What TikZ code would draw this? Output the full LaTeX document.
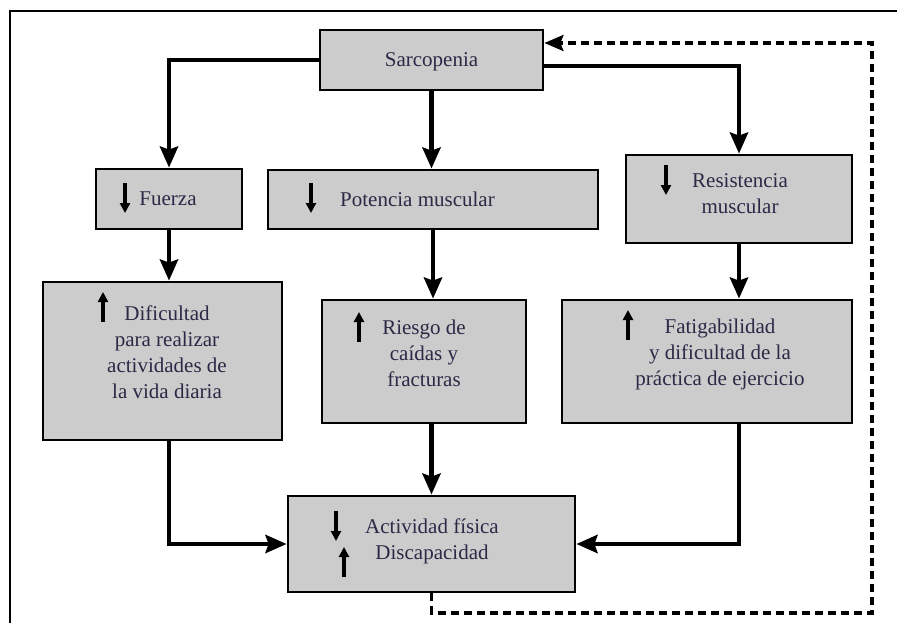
\documentclass[tikz,border=0pt]{standalone}
\usepackage{fontspec}
\setmainfont{Liberation Serif}
\usetikzlibrary{arrows.meta}
\definecolor{boxgray}{RGB}{204,204,204}
\definecolor{txt}{RGB}{45,40,70}
\begin{document}
\begin{tikzpicture}[x=1pt,y=-1pt,
  box/.style={draw=black,fill=boxgray,line width=2.8pt,inner sep=0pt},
  lbl/.style={text=txt,align=center,inner sep=0pt,font=\fontsize{21}{26}\selectfont},
  conn/.style={line width=4.5pt,-{Stealth[inset=3pt,length=21pt,width=18pt]}},
  fb/.style={line width=3.2pt,dash pattern=on 8pt off 5pt,-{Stealth[inset=3pt,length=19pt,width=16pt]}},
  icon/.style={line width=4pt,-{Triangle[length=10pt,width=10pt]}},
  icondown/.pic={\draw[icon] (0,-15) -- (0,15);},
  iconup/.pic={\draw[icon] (0,15) -- (0,-15);}
]
\useasboundingbox (0,0) rectangle (897,623);
% frame
\draw[line width=2pt] (9.5,623) -- (9.5,11) -- (897,11);
% boxes
\node[box,minimum width=223pt,minimum height=60pt] (sar) at (431.5,60) {};
\node[box,minimum width=146pt,minimum height=60pt] (fue) at (169,199) {};
\node[box,minimum width=330pt,minimum height=59pt] (pot) at (433,199.5) {};
\node[box,minimum width=226pt,minimum height=88pt] (res) at (739,199) {};
\node[box,minimum width=239pt,minimum height=158pt] (dif) at (162.5,361) {};
\node[box,minimum width=204pt,minimum height=123pt] (rie) at (424,361.5) {};
\node[box,minimum width=290pt,minimum height=123pt] (fat) at (707,361.5) {};
\node[box,minimum width=287pt,minimum height=96pt] (act) at (431.5,544) {};
% texts
\node[lbl] (sart) at (431.5,62) {Sarcopenia};
\node[lbl] (fuet) at (168,199) {Fuerza};
\node[lbl] (pott) at (417.5,199) {Potencia muscular};
\node[lbl] (rest) at (740,194) {Resistencia\\muscular};
\node[lbl] (dift) at (167,352) {Dificultad\\para realizar\\actividades de\\la vida diaria};
\node[lbl] (riet) at (424,353) {Riesgo de\\caídas y\\fracturas};
\node[lbl] (fatt) at (720,354) {Fatigabilidad\\y dificultad de la\\práctica de ejercicio};
\node[lbl] (actt) at (432,541) {Actividad física\\Discapacidad};
% icons
\pic at (125,198) {icondown};
\pic at (311,198) {icondown};
\pic at (666,180) {icondown};
\pic at (103,307) {iconup};
\pic at (359,327) {iconup};
\pic at (628,325) {iconup};
\pic at (336,526) {icondown};
\pic at (344,562) {iconup};
% connectors
\draw[conn] (sar.west) -| (fue.north);
\draw[conn] (sar.south) -- (sar.south |- pot.north);
\draw[conn] ([yshift=-6pt]sar.east) -| (res.north);
\draw[conn] (fue.south) -- (fue.south |- dif.north);
\draw[conn] (pot.south) -- (pot.south |- rie.north);
\draw[conn] (res.south) -- (res.south |- fat.north);
\draw[conn] (act.north |- rie.south) -- (act.north);
\draw[conn] (fue.south |- dif.south) |- (act.west);
\draw[conn] (res.south |- fat.south) |- (act.east);
% feedback
\coordinate (c1) at (872,613);
\coordinate (c2) at (872,43);
\draw[fb] (act.south) |- (c1) -- (c2) -- (c2 -| sar.east);
\end{tikzpicture}
\end{document}
